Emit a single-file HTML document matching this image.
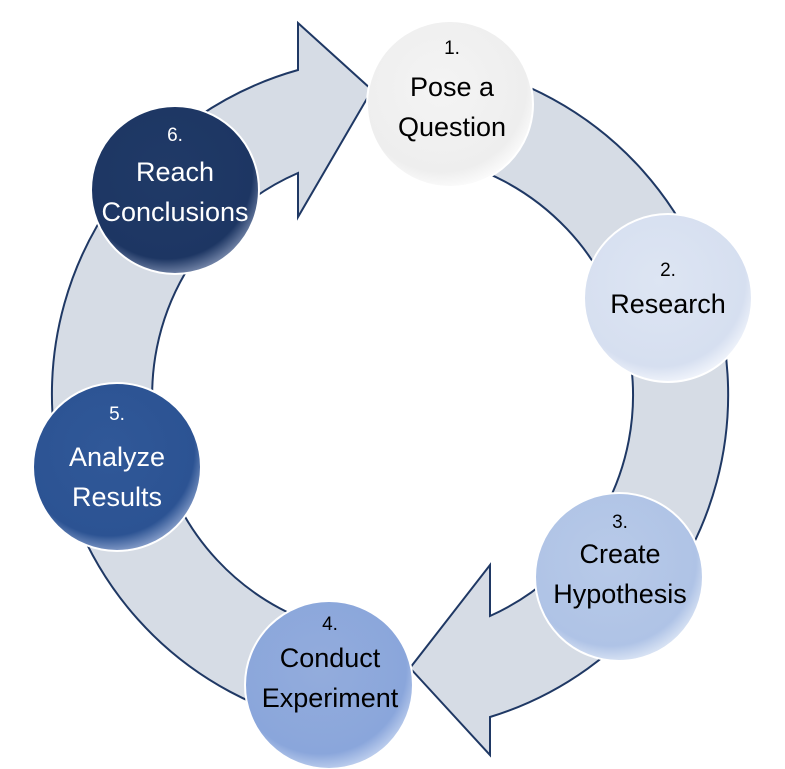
<!DOCTYPE html>
<html><head><meta charset="utf-8"><style>
html,body{margin:0;padding:0;background:#fff;}
svg{display:block;}
text{font-family:"Liberation Sans",sans-serif;text-anchor:middle;}
</style></head><body>
<svg width="785" height="769" viewBox="0 0 785 769" xmlns="http://www.w3.org/2000/svg">
<defs>
<radialGradient id="g1" cx="45%" cy="40%" r="60%"><stop offset="0" stop-color="#f4f4f4"/><stop offset="0.85" stop-color="#eeeeee"/><stop offset="1" stop-color="#fafafa"/></radialGradient>
<radialGradient id="g2" cx="45%" cy="40%" r="60%"><stop offset="0" stop-color="#dde5f3"/><stop offset="0.85" stop-color="#d6dff0"/><stop offset="1" stop-color="#eef2fa"/></radialGradient>
<radialGradient id="g3" cx="45%" cy="40%" r="60%"><stop offset="0" stop-color="#b8cae8"/><stop offset="0.85" stop-color="#afc3e6"/><stop offset="1" stop-color="#d6e1f3"/></radialGradient>
<radialGradient id="g4" cx="45%" cy="40%" r="60%"><stop offset="0" stop-color="#93acdc"/><stop offset="0.85" stop-color="#8aa6db"/><stop offset="1" stop-color="#b9cbec"/></radialGradient>
<radialGradient id="g5" cx="45%" cy="40%" r="60%"><stop offset="0" stop-color="#305898"/><stop offset="0.85" stop-color="#2c5393"/><stop offset="1" stop-color="#7d96c4"/></radialGradient>
<radialGradient id="g6" cx="45%" cy="40%" r="60%"><stop offset="0" stop-color="#203a67"/><stop offset="0.85" stop-color="#1d3663"/><stop offset="1" stop-color="#6d7fa3"/></radialGradient>
</defs>
<g fill="#d6dce5" stroke="#1f3864" stroke-width="2" stroke-linejoin="miter">
<path d="M334,727 A337,337 0 0 1 298,70 L298,23 L372,90 L298,217 L298,173 A242,242 0 0 0 350,633 Z"/>
<path d="M450,63 A337,337 0 0 1 490,717 L490,755 L410,668 L490,565 L490,616 A242,242 0 0 0 434,157 Z"/>
</g>
<g stroke="#ffffff" stroke-width="2">
<circle cx="450" cy="104" r="83" fill="url(#g1)"/>
<circle cx="668" cy="298" r="84" fill="url(#g2)"/>
<circle cx="619" cy="577" r="84" fill="url(#g3)"/>
<circle cx="329" cy="685" r="84" fill="url(#g4)"/>
<circle cx="117" cy="467" r="84" fill="url(#g5)"/>
<circle cx="175" cy="190" r="84" fill="url(#g6)"/>
</g>
<g fill="#000">
<text x="452" y="54" font-size="19">1.</text>
<text x="452" y="96" font-size="27">Pose a</text>
<text x="452" y="136" font-size="27">Question</text>
<text x="668" y="276" font-size="19">2.</text>
<text x="668" y="313" font-size="27">Research</text>
<text x="620" y="528" font-size="19">3.</text>
<text x="620" y="563" font-size="27">Create</text>
<text x="620" y="603" font-size="27">Hypothesis</text>
<text x="330" y="630" font-size="19">4.</text>
<text x="330" y="667" font-size="27">Conduct</text>
<text x="330" y="707" font-size="27">Experiment</text>
</g>
<g fill="#fff">
<text x="117" y="420" font-size="19">5.</text>
<text x="117" y="466" font-size="27">Analyze</text>
<text x="117" y="506" font-size="27">Results</text>
<text x="175" y="141" font-size="19">6.</text>
<text x="175" y="181" font-size="27">Reach</text>
<text x="175" y="221" font-size="27">Conclusions</text>
</g>
</svg>
</body></html>
